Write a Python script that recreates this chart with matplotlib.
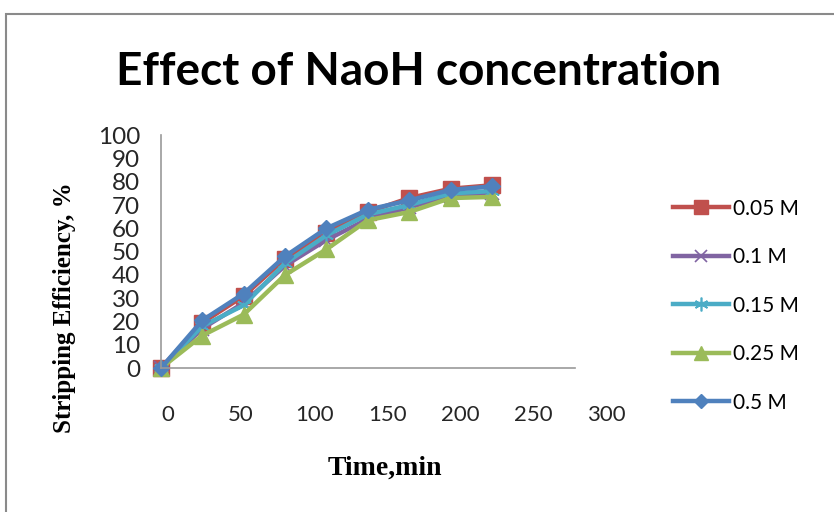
import matplotlib
matplotlib.use('Agg')
import matplotlib.pyplot as plt
import matplotlib.transforms as mtransforms
from matplotlib.patches import Rectangle

time_min = [0, 30, 60, 90, 120, 150, 180, 210, 240]
eff_005 = [0, 19.5, 31, 47, 58, 67, 73, 77, 78.5]
eff_01 = [0, 17, 28, 44, 55, 64, 69, 74, 75]
eff_015 = [0, 18, 27, 45, 57, 66, 70, 75, 76]
eff_025 = [0, 14, 23, 40, 51, 63.5, 67, 73, 73.5]
eff_05 = [0, 20.5, 32, 48, 60, 68, 72, 76.5, 78]

series_labels = ['0.05 M', '0.1 M', '0.15 M', '0.25 M', '0.5 M']
x_ticks = [0, 50, 100, 150, 200, 250, 300]
y_ticks = [0, 10, 20, 30, 40, 50, 60, 70, 80, 90, 100]

fig = plt.figure(figsize=(8.34, 5.12), dpi=100)
ax = fig.add_axes([0.193, 0.281, 0.496, 0.455])

styles = [
    dict(color='#C0504D', marker='s', ms=11),
    dict(color='#8064A2', marker='x', ms=10, mew=1.2),
    dict(color='#4BACC6', marker=(6, 2, 0), ms=11, mew=1.2),
    dict(color='#9BBB59', marker='^', ms=11),
    dict(color='#4F81BD', marker='D', ms=8),
]
lines = []
for vals, lab, st in zip([eff_005, eff_01, eff_015, eff_025, eff_05], series_labels, styles):
    ln, = ax.plot(time_min, vals, lw=3.2, label=lab, clip_on=False, **st)
    lines.append(ln)

ax.set_xlim(0, 300)
ax.set_ylim(0, 100)
for s in ['top', 'right']:
    ax.spines[s].set_visible(False)
for s in ['left', 'bottom']:
    ax.spines[s].set_color('#999999')
    ax.spines[s].set_linewidth(1.2)

ax.set_yticks(y_ticks, [str(v) for v in y_ticks])
ax.set_xticks([])
ax.tick_params(length=0, labelsize=17.5, colors='#262626')
ax.tick_params(axis='y', pad=15)
for t in ax.get_yticklabels():
    t.set_fontfamily('Lato')

# excel put the category labels a bit stretched to the right of the data scale
trans = mtransforms.blended_transform_factory(ax.transData, ax.transAxes)
for v in x_ticks:
    ax.text(1.06 * v + 5, -0.2, str(v), transform=trans, ha='center', va='center',
            fontsize=16, family='Lato', color='#262626', clip_on=False)

fig.text(0.502, 0.859, 'Effect of NaoH concentration', ha='center', va='center',
         fontsize=33, fontweight='bold', family='Lato')
fig.text(0.077, 0.40, 'Stripping Efficiency, %', rotation=90, ha='center', va='center',
         fontsize=18, fontweight='bold', family='Liberation Serif')
fig.text(0.462, 0.086, 'Time,min', ha='center', va='center',
         fontsize=20, fontweight='bold', family='Liberation Serif')

fig.legend(handles=lines, loc='center left', bbox_to_anchor=(0.784, 0.403),
           frameon=False, prop={'family': 'Lato', 'size': 15},
           handlelength=2.7, handletextpad=0.2, labelspacing=1.37, markerscale=0.9)

fig.add_artist(Rectangle((0.007, -0.05), 1.1, 1.023, transform=fig.transFigure,
                         fill=False, edgecolor='#8a8a8a', lw=1.5))

fig.savefig('out.png', dpi=100)
